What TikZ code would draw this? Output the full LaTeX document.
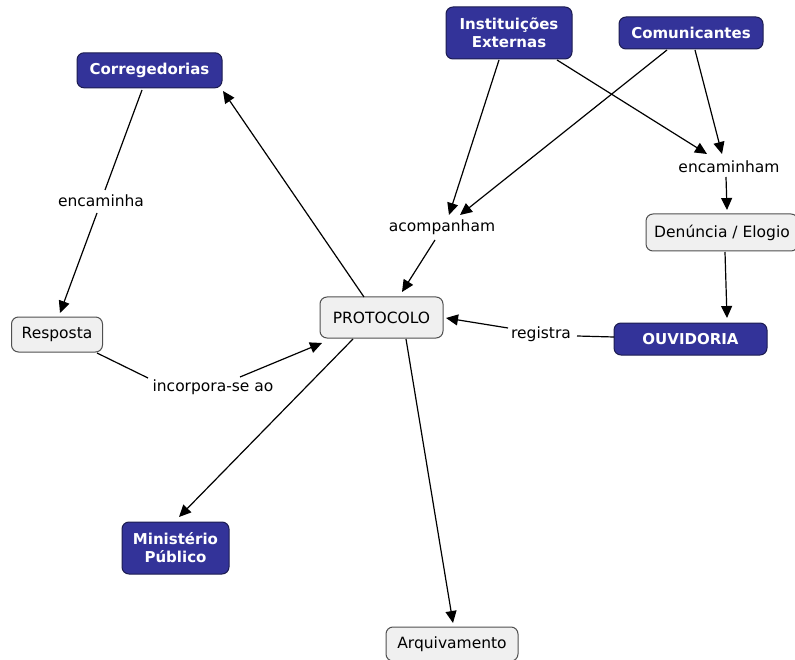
\documentclass[tikz,border=0pt]{standalone}
\usepackage{fontspec}
\setmainfont{DejaVu Sans}
\usetikzlibrary{arrows.meta,calc}
\definecolor{navyfill}{HTML}{333399}
\definecolor{navyborder}{HTML}{1C1C50}
\definecolor{lightfill}{HTML}{F0F0F0}
\definecolor{lightborder}{HTML}{505050}
\begin{document}
\begin{tikzpicture}[x=1pt,y=-1pt,
  font=\fontsize{15.5}{18}\selectfont,
  concept/.style={draw=lightborder, fill=lightfill, rounded corners=7pt, line width=1pt, inner sep=0pt, align=center},
  keynode/.style={draw=navyborder, fill=navyfill, text=white, font=\fontsize{15}{18}\selectfont\bfseries, rounded corners=7pt, line width=1pt, inner sep=0pt, align=center},
  lbl/.style={inner sep=2pt},
  ln/.style={line width=1.2pt, black},
  arr/.style={ln, -{Triangle[length=12pt,width=11pt]}}]
\useasboundingbox (0,0) rectangle (795,660);

\node[keynode, minimum width=145pt, minimum height=35pt] (corr) at (149.5,70.3) {Corregedorias};
\node[keynode, minimum width=126pt, minimum height=52pt] (inst) at (509,33) {Instituições\\Externas};
\node[keynode, minimum width=144pt, minimum height=32pt] (comu) at (691,33) {Comunicantes};
\node[lbl] (enc) at (729,167) {encaminham};
\node[concept, minimum width=152pt, minimum height=37pt] (den) at (722,232.5) {Denúncia / Elogio};
\node[lbl] (acomp) at (442,227) {acompanham};
\node[concept, minimum width=123pt, minimum height=41pt] (prot) at (381.5,317.5) {PROTOCOLO};
\node[lbl] (reg) at (541,334) {registra};
\node[keynode, minimum width=153pt, minimum height=32pt] (ouv) at (690.5,339) {OUVIDORIA};
\node[concept, minimum width=91pt, minimum height=35pt] (resp) at (57,334.5) {Resposta};
\node[lbl] (encb) at (101,201) {encaminha};
\node[lbl] (inc) at (213,387) {incorpora-se ao};
\node[keynode, minimum width=107pt, minimum height=52pt] (mp) at (175.5,548) {Ministério\\Público};
\node[concept, minimum width=132pt, minimum height=34pt] (arq) at (452,644) {Arquivamento};

\draw[ln]  ($(corr)+(-7.5,19.7)$) -- ($(encb)+(4,-11)$);
\draw[arr] ($(encb)+(-4,12)$) -- ($(resp)+(3,-21.5)$);
\draw[arr] ($(prot)+(-17.5,-20.5)$) -- ($(corr)+(73.5,20.7)$);
\draw[ln]  ($(resp)+(40,18.5)$) -- ($(inc)+(-65,-9)$);
\draw[arr] ($(inc)+(27,-10)$) -- ($(prot)+(-59.5,25.5)$);
\draw[arr] ($(prot)+(-28.5,21.5)$) -- ($(mp)+(3.5,-31)$);
\draw[arr] ($(prot)+(24.5,21.5)$) -- ($(arq)+(1,-21)$);
\draw[ln]  ($(ouv)+(-76.5,-2)$) -- ($(reg)+(36,2)$);
\draw[arr] ($(reg)+(-33,-6)$) -- ($(prot)+(64.5,0.5)$);
\draw[arr] ($(acomp)+(-7,13)$) -- ($(prot)+(20.5,-25.5)$);
\draw[arr] ($(inst)+(-10,27)$) -- ($(acomp)+(7,-12)$);
\draw[arr] ($(comu)+(-24,17)$) -- ($(acomp)+(18,-12)$);
\draw[arr] ($(inst)+(48,27)$) -- ($(enc)+(-22,-13)$);
\draw[arr] ($(comu)+(4,17)$) -- ($(enc)+(-7,-13)$);
\draw[arr] ($(enc)+(-3,10)$) -- ($(den)+(5,-22.5)$);
\draw[arr] ($(den)+(3,19.5)$) -- ($(ouv)+(36.5,-21)$);
\end{tikzpicture}
\end{document}
